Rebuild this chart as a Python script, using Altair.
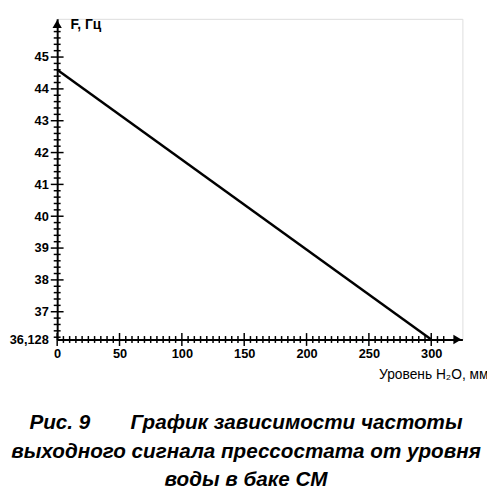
import altair as alt
import pandas as pd

# ---- data ----
level_mm = [0, 300]
freq_hz = [44.6, 36.128]

x_major = [0, 50, 100, 150, 200, 250, 300]
x_minor = [v for v in range(5, 315, 5) if v % 50 != 0]
y_labels = [36.128, 37, 38, 39, 40, 41, 42, 43, 44, 45]
y_major = [37, 38, 39, 40, 41, 42, 43, 44, 45]
y_minor = [round(36.2 + 0.2 * i, 1) for i in range(49)]
y_minor = [v for v in y_minor if abs(v - round(v)) > 1e-6 and v < 45.9]

X_MIN, X_MAX = 0, 325
Y_MIN, Y_MAX = 36.128, 46.2

title_lines = [
    "Рис. 9" + "\u00a0" * 7 + "График зависимости частоты",
    "выходного сигнала прессостата от уровня",
    "воды в баке СМ",
]

FONT = "Liberation Sans"

line_df = pd.DataFrame({"x": level_mm, "y": freq_hz})

xs = alt.Scale(domain=[X_MIN, X_MAX], nice=False, zero=False)
ys = alt.Scale(domain=[Y_MIN, Y_MAX], nice=False, zero=False)

X_AXIS = dict(
    values=x_major, ticks=False, grid=False, domainColor="black", domainWidth=2,
    labelFont=FONT, labelFontWeight="bold", labelFontSize=13, labelColor="black",
    labelPadding=8, labelFlush=False, labelOverlap=False,
    title="Уровень H₂O, мм", titleFont=FONT, titleFontWeight="normal", titleFontSize=14,
    titleColor="black", titleAnchor="end", titleAlign="right", titleX=438, titleY=29,
)
Y_AXIS = dict(
    values=y_labels, ticks=False, grid=False, domainColor="black", domainWidth=2,
    labelFont=FONT, labelFontWeight="bold", labelFontSize=13, labelColor="black",
    labelPadding=9, labelFlush=False, labelOverlap=False,
    labelExpr="replace(toString(datum.value), '.', ',')",
    title="F, Гц", titleFont=FONT, titleFontWeight="bold", titleFontSize=14,
    titleColor="black", titleAngle=0, titleAlign="left", titleBaseline="middle",
    titleX=13, titleY=6,
)


def enc(chart):
    return chart.encode(
        x=alt.X("x:Q", scale=xs, axis=alt.Axis(**X_AXIS)),
        y=alt.Y("y:Q", scale=ys, axis=alt.Axis(**Y_AXIS)),
    )


line = enc(alt.Chart(line_df).mark_line(color="black", strokeWidth=2.5))

xmaj_df = pd.DataFrame({"x": x_major, "y": [Y_MIN] * len(x_major)})
xmin_df = pd.DataFrame({"x": x_minor, "y": [Y_MIN] * len(x_minor)})
ymaj_df = pd.DataFrame({"x": [X_MIN] * len(y_major), "y": y_major})
ymin_df = pd.DataFrame({"x": [X_MIN] * len(y_minor), "y": y_minor})


def ticks(df, orient, size):
    return enc(alt.Chart(df).mark_tick(
        color="black", orient=orient, size=size, thickness=1.5, opacity=1
    ))


arrow_df_x = pd.DataFrame({"x": [X_MAX - 4], "y": [Y_MIN]})
arrow_df_y = pd.DataFrame({"x": [X_MIN], "y": [Y_MAX - 0.16]})
arrow_x = enc(alt.Chart(arrow_df_x).mark_point(
    shape="triangle-right", filled=True, color="black", size=90, opacity=1
))
arrow_y = enc(alt.Chart(arrow_df_y).mark_point(
    shape="triangle-up", filled=True, color="black", size=90, opacity=1
))

chart = alt.layer(
    line,
    ticks(xmaj_df, "vertical", 13),
    ticks(xmin_df, "vertical", 7),
    ticks(ymaj_df, "horizontal", 13),
    ticks(ymin_df, "horizontal", 7),
    arrow_x,
    arrow_y,
).properties(
    width=412,
    height=326,
    autosize=alt.AutoSizeParams(type="none"),
    padding={"left": 50, "top": 7, "right": 25, "bottom": 150},
    title=alt.TitleParams(
        text=title_lines, orient="bottom", anchor="middle", font=FONT,
        fontSize=21, fontStyle="italic", fontWeight="bold", color="black",
        lineHeight=29, offset=31, dx=-14,
    ),
).configure_axis(
    labelOverlap=False, labelFont=FONT, labelFontSize=13, labelFontWeight="bold",
    labelColor="black",
).configure_view(strokeWidth=0).configure(background="white")

chart.save("out.html", embed_options={"renderer": "svg", "actions": False})
